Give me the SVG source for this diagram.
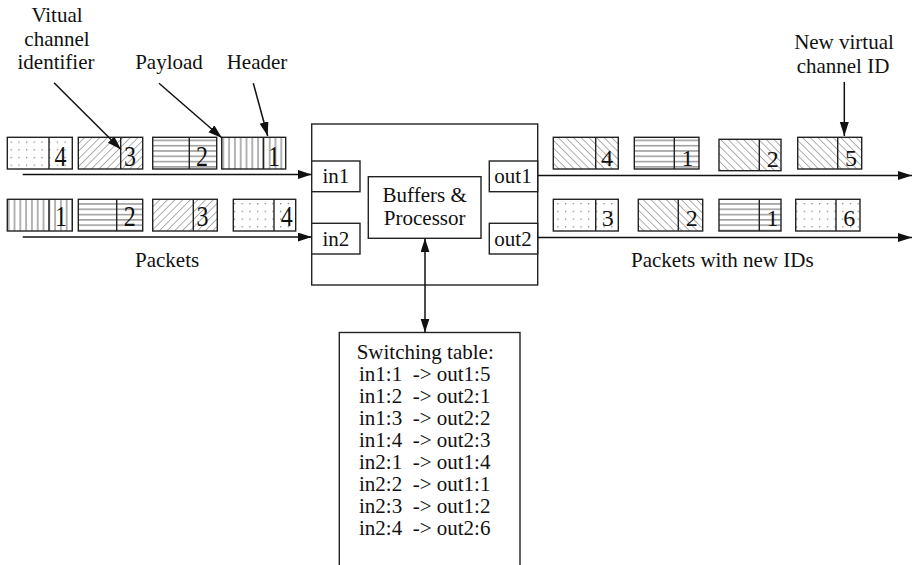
<svg xmlns="http://www.w3.org/2000/svg" width="912" height="565" viewBox="0 0 912 565" font-family="'Liberation Serif', 'Times New Roman', Times, 'DejaVu Serif', serif">
<style>
text{font-family:'Liberation Serif','Times New Roman',Times,'DejaVu Serif',serif;font-size:21px;fill:#111}
.mid{text-anchor:middle}
.nl{font-size:29px;text-anchor:middle}
.nr{font-size:24px;text-anchor:middle}
.box{fill:#fff;stroke:#222;stroke-width:1.4}
.pk{stroke:#222;stroke-width:1.4}
.dv{stroke:#222;stroke-width:1.4}
.ln{stroke:#111;stroke-width:1.5;fill:none}
</style>
<defs>
<pattern id="dots" patternUnits="userSpaceOnUse" width="7.7" height="7.7"><rect x="3" y="3" width="1.1" height="1.1" fill="#555"/></pattern>
<pattern id="dfw" patternUnits="userSpaceOnUse" width="5.4" height="7" patternTransform="rotate(45)"><line x1="0" y1="0" x2="0" y2="7" stroke="#444" stroke-width="0.9"/></pattern>
<pattern id="dbk" patternUnits="userSpaceOnUse" width="5.4" height="7" patternTransform="rotate(-45)"><line x1="0" y1="0" x2="0" y2="7" stroke="#444" stroke-width="0.9"/></pattern>
<pattern id="hor" patternUnits="userSpaceOnUse" width="6" height="5.3"><line x1="0" y1="2.6" x2="6" y2="2.6" stroke="#555" stroke-width="0.9"/></pattern>
<pattern id="ver" patternUnits="userSpaceOnUse" width="5.8" height="6"><line x1="2.9" y1="0" x2="2.9" y2="6" stroke="#555" stroke-width="0.9"/></pattern>
<marker id="ah" markerUnits="userSpaceOnUse" markerWidth="15" markerHeight="10" refX="14" refY="4.5" orient="auto"><path d="M0,0 L14,4.5 L0,9 z" fill="#111"/></marker>
<marker id="ahs" markerUnits="userSpaceOnUse" markerWidth="15" markerHeight="10" refX="14" refY="4.5" orient="auto-start-reverse"><path d="M0,0 L14,4.5 L0,9 z" fill="#111"/></marker>
</defs>
<rect width="912" height="565" fill="#fff"/>

<!-- labels -->
<g id="label-vci"><text class="mid" x="57" y="22">Vitual</text><text class="mid" x="57" y="46">channel</text><text class="mid" x="56" y="69">identifier</text></g>
<g id="label-payload"><text class="mid" x="169" y="69">Payload</text></g>
<g id="label-header"><text class="mid" x="257" y="69">Header</text></g>
<g id="label-newid"><text class="mid" x="844" y="49">New virtual</text><text class="mid" x="843" y="73">channel ID</text></g>
<g id="label-packets"><text x="135" y="267">Packets</text></g>
<g id="label-packets-new"><text x="631" y="267">Packets with new IDs</text></g>

<!-- left row 1 -->
<g id="pkt-in1-4"><rect x="7.3" y="137.3" width="65" height="31.7" fill="#fff"/><rect class="pk" x="7.3" y="137.3" width="65" height="31.7" fill="url(#dots)"/><line class="dv" x1="49" y1="137.3" x2="49" y2="169"/><text class="nl" x="60.5" y="166" textLength="12" lengthAdjust="spacingAndGlyphs">4</text></g>
<g id="pkt-in1-3"><rect x="78.3" y="137.3" width="64.4" height="31.7" fill="#fff"/><rect class="pk" x="78.3" y="137.3" width="64.4" height="31.7" fill="url(#dfw)"/><line class="dv" x1="120.7" y1="137.3" x2="120.7" y2="169"/><text class="nl" x="130" y="166" textLength="12" lengthAdjust="spacingAndGlyphs">3</text></g>
<g id="pkt-in1-2"><rect x="152.7" y="137.3" width="64" height="31.7" fill="#fff"/><rect class="pk" x="152.7" y="137.3" width="64" height="31.7" fill="url(#hor)"/><line class="dv" x1="189.3" y1="137.3" x2="189.3" y2="169"/><text class="nl" x="202" y="166" textLength="12" lengthAdjust="spacingAndGlyphs">2</text></g>
<g id="pkt-in1-1"><rect x="221.7" y="137.3" width="64" height="31.7" fill="#fff"/><rect class="pk" x="221.7" y="137.3" width="64" height="31.7" fill="url(#ver)"/><line class="dv" x1="263.3" y1="137.3" x2="263.3" y2="169"/><text class="nl" x="274" y="166" textLength="12" lengthAdjust="spacingAndGlyphs">1</text></g>
<!-- left row 2 -->
<g id="pkt-in2-1"><rect x="7.3" y="199.3" width="65" height="31.7" fill="#fff"/><rect class="pk" x="7.3" y="199.3" width="65" height="31.7" fill="url(#ver)"/><line class="dv" x1="49" y1="199.3" x2="49" y2="231"/><text class="nl" x="61" y="226" textLength="12" lengthAdjust="spacingAndGlyphs">1</text></g>
<g id="pkt-in2-2"><rect x="78.3" y="199.3" width="64.4" height="31.7" fill="#fff"/><rect class="pk" x="78.3" y="199.3" width="64.4" height="31.7" fill="url(#hor)"/><line class="dv" x1="116.7" y1="199.3" x2="116.7" y2="231"/><text class="nl" x="129.7" y="226" textLength="12" lengthAdjust="spacingAndGlyphs">2</text></g>
<g id="pkt-in2-3"><rect x="152.7" y="199.3" width="64.6" height="31.7" fill="#fff"/><rect class="pk" x="152.7" y="199.3" width="64.6" height="31.7" fill="url(#dfw)"/><line class="dv" x1="193.3" y1="199.3" x2="193.3" y2="231"/><text class="nl" x="202.5" y="226" textLength="12" lengthAdjust="spacingAndGlyphs">3</text></g>
<g id="pkt-in2-4"><rect x="233.3" y="199.3" width="62.4" height="31.7" fill="#fff"/><rect class="pk" x="233.3" y="199.3" width="62.4" height="31.7" fill="url(#dots)"/><line class="dv" x1="274" y1="199.3" x2="274" y2="231"/><text class="nl" x="286.7" y="226" textLength="12" lengthAdjust="spacingAndGlyphs">4</text></g>
<!-- right row 1 -->
<g id="pkt-out1-4"><rect x="553.3" y="137.3" width="65" height="31.7" fill="#fff"/><rect class="pk" x="553.3" y="137.3" width="65" height="31.7" fill="url(#dbk)"/><line class="dv" x1="595.7" y1="137.3" x2="595.7" y2="169"/><text class="nr" x="607" y="166">4</text></g>
<g id="pkt-out1-1"><rect x="634.3" y="137.3" width="64.7" height="31.7" fill="#fff"/><rect class="pk" x="634.3" y="137.3" width="64.7" height="31.7" fill="url(#hor)"/><line class="dv" x1="674.3" y1="137.3" x2="674.3" y2="169"/><text class="nr" x="687.5" y="166">1</text></g>
<g id="pkt-out1-2"><rect x="719" y="139.3" width="62" height="31.4" fill="#fff"/><rect class="pk" x="719" y="139.3" width="62" height="31.4" fill="url(#dbk)"/><line class="dv" x1="759.3" y1="139.3" x2="759.3" y2="170.7"/><text class="nr" x="772.7" y="167">2</text></g>
<g id="pkt-out1-5"><rect x="797.7" y="137.3" width="64" height="31.7" fill="#fff"/><rect class="pk" x="797.7" y="137.3" width="64" height="31.7" fill="url(#dbk)"/><line class="dv" x1="837.7" y1="137.3" x2="837.7" y2="169"/><text class="nr" x="851" y="166">5</text></g>
<!-- right row 2 -->
<g id="pkt-out2-3"><rect x="553.3" y="199.3" width="65" height="31.7" fill="#fff"/><rect class="pk" x="553.3" y="199.3" width="65" height="31.7" fill="url(#dots)"/><line class="dv" x1="595.7" y1="199.3" x2="595.7" y2="231"/><text class="nr" x="607.7" y="225.5">3</text></g>
<g id="pkt-out2-2"><rect x="638.3" y="199.3" width="64.4" height="31.7" fill="#fff"/><rect class="pk" x="638.3" y="199.3" width="64.4" height="31.7" fill="url(#dbk)"/><line class="dv" x1="678.3" y1="199.3" x2="678.3" y2="231"/><text class="nr" x="691.7" y="225.5">2</text></g>
<g id="pkt-out2-1"><rect x="719" y="199.3" width="62" height="31.7" fill="#fff"/><rect class="pk" x="719" y="199.3" width="62" height="31.7" fill="url(#hor)"/><line class="dv" x1="759.3" y1="199.3" x2="759.3" y2="231"/><text class="nr" x="772.5" y="225.5">1</text></g>
<g id="pkt-out2-6"><rect x="795.7" y="199.3" width="64.3" height="31.7" fill="#fff"/><rect class="pk" x="795.7" y="199.3" width="64.3" height="31.7" fill="url(#dots)"/><line class="dv" x1="836" y1="199.3" x2="836" y2="231"/><text class="nr" x="849.3" y="225.5">6</text></g>

<!-- switch -->
<g id="switch"><rect class="box" x="311.7" y="124" width="226" height="161"/></g>
<g id="in1"><rect class="box" x="311.7" y="161" width="48.3" height="30.7"/><text class="mid" x="335.8" y="183">in1</text></g>
<g id="in2"><rect class="box" x="311.7" y="223.3" width="48.3" height="30.7"/><text class="mid" x="335.8" y="245.5">in2</text></g>
<g id="out1"><rect class="box" x="489.3" y="161" width="48.4" height="30.7"/><text class="mid" x="513" y="183">out1</text></g>
<g id="out2"><rect class="box" x="489.3" y="223.3" width="48.4" height="30.7"/><text class="mid" x="513" y="245.5">out2</text></g>
<g id="buffers"><rect class="box" x="368.3" y="176.7" width="112.7" height="61.6"/><text class="mid" x="424.7" y="201.7">Buffers &amp;</text><text class="mid" x="424.7" y="225">Processor</text></g>

<g id="switching-table"><rect class="box" x="339.3" y="332.5" width="180.7" height="240"/>
<text x="356.7" y="359">Switching table:</text>
<text x="359" y="381" xml:space="preserve">in1:1  -&gt; out1:5</text>
<text x="359" y="403" xml:space="preserve">in1:2  -&gt; out2:1</text>
<text x="359" y="425" xml:space="preserve">in1:3  -&gt; out2:2</text>
<text x="359" y="447" xml:space="preserve">in1:4  -&gt; out2:3</text>
<text x="359" y="469" xml:space="preserve">in2:1  -&gt; out1:4</text>
<text x="359" y="491" xml:space="preserve">in2:2  -&gt; out1:1</text>
<text x="359" y="513" xml:space="preserve">in2:3  -&gt; out1:2</text>
<text x="359" y="535" xml:space="preserve">in2:4  -&gt; out2:6</text>
</g>

<g id="connectors">
<line class="ln" x1="22.7" y1="174.5" x2="311.7" y2="174.5" marker-end="url(#ah)"/>
<line class="ln" x1="22.7" y1="237" x2="311.7" y2="237" marker-end="url(#ah)"/>
<line class="ln" x1="537.7" y1="175.5" x2="912" y2="175.5" marker-end="url(#ah)"/>
<line class="ln" x1="537.7" y1="237.5" x2="912" y2="237.5" marker-end="url(#ah)"/>
<line class="ln" x1="425" y1="238.3" x2="425" y2="332.5" marker-start="url(#ahs)" marker-end="url(#ah)"/>
<line class="ln" x1="54" y1="82.7" x2="121" y2="149.5" marker-end="url(#ah)"/>
<line class="ln" x1="159" y1="83.3" x2="222" y2="138" marker-end="url(#ah)"/>
<line class="ln" x1="253.3" y1="83.3" x2="267.7" y2="136" marker-end="url(#ah)"/>
<line class="ln" x1="844.3" y1="82" x2="844.3" y2="136" marker-end="url(#ah)"/>
</g>
</svg>
